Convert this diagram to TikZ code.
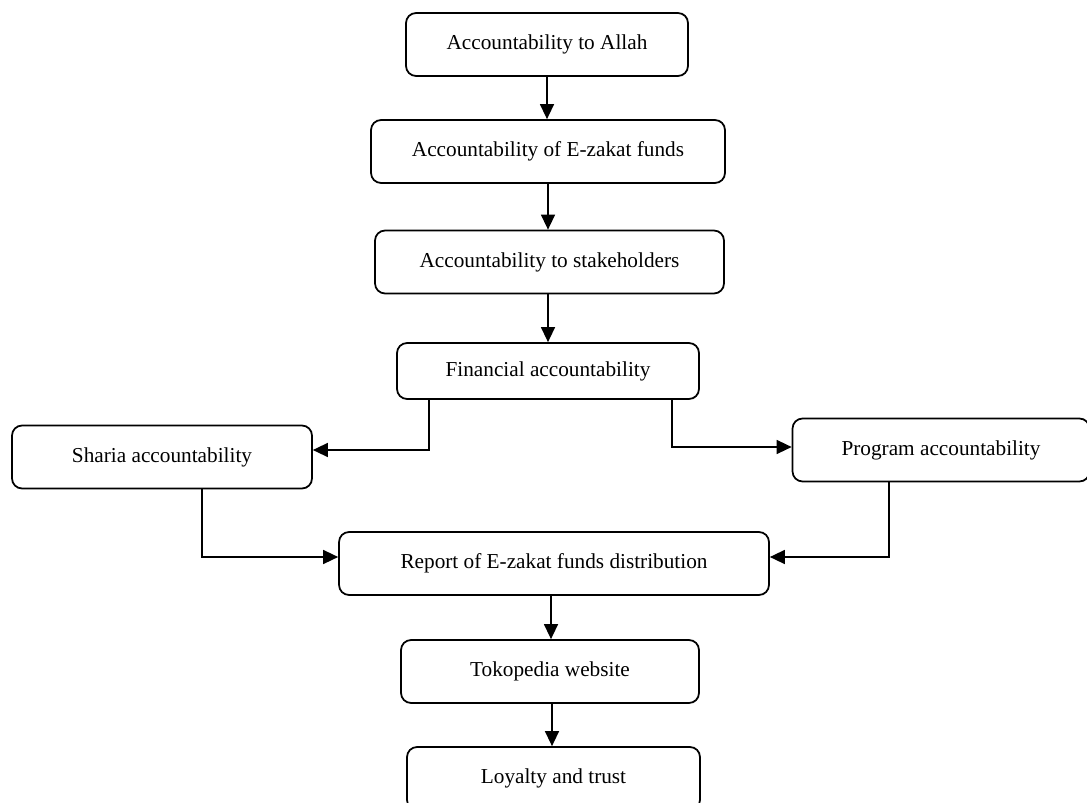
\documentclass[tikz,border=0pt]{standalone}
\usepackage{fontspec}
\setmainfont{Liberation Serif}
\usetikzlibrary{arrows.meta,positioning}

\begin{document}
\begin{tikzpicture}[
  x=0.02cm, y=-0.02cm,
  font=\fontsize{12.1}{14}\selectfont,
  box/.style={rectangle, rounded corners=0.2cm, draw=black, line width=1pt, fill=white,
              minimum height=1.26cm, align=center, inner sep=0pt},
  arr/.style={-{Triangle[length=0.3cm,width=0.28cm]}, line width=0.8pt},
]
\useasboundingbox (0,0) rectangle (1087,803);
\node[box, minimum width=5.64cm] (allah)  at (547,44.5)   {Accountability to Allah};
\node[box, minimum width=7.08cm] (funds)  at (548,151.5)  {Accountability of E-zakat funds};
\node[box, minimum width=6.98cm] (stake)  at (549.5,262)  {Accountability to stakeholders};
\node[box, minimum width=6.04cm, minimum height=1.12cm] (fin) at (548,371) {Financial accountability};
\node[box, minimum width=6.00cm] (sharia) at (162,457)    {Sharia accountability};
\node[box, minimum width=5.94cm] (prog)   at (941,450)    {Program accountability};
\node[box, minimum width=8.60cm] (report) at (554,563.5)  {Report of E-zakat funds distribution};
\node[box, minimum width=5.96cm] (toko)   at (550,671.5)  {Tokopedia website};
\node[box, minimum width=5.86cm] (loyal)  at (553.5,778.5){Loyalty and trust};
% main chain
\draw[arr] (allah.south)--(allah.south |- funds.north);
\draw[arr] (funds.south)--(funds.south |- stake.north);
\draw[arr] (fin.north |- stake.south)--(fin.north);
% branches
\draw[arr] ([xshift=0.66cm]fin.south west) |- ([yshift=0.14cm]sharia.east);
\draw[arr] ([xshift=-0.56cm]fin.south east) |- ([yshift=0.06cm]prog.west);
\draw[arr] ([xshift=0.8cm]sharia.south) |- ([yshift=0.13cm]report.west);
\draw[arr] ([xshift=-1.04cm]prog.south) |- ([yshift=0.13cm]report.east);
\draw[arr] ([xshift=0.02cm]toko.north |- report.south)--([xshift=0.02cm]toko.north);
\draw[arr] ([xshift=0.04cm]toko.south)--([xshift=0.04cm]toko.south |- loyal.north);
\end{tikzpicture}
\end{document}
